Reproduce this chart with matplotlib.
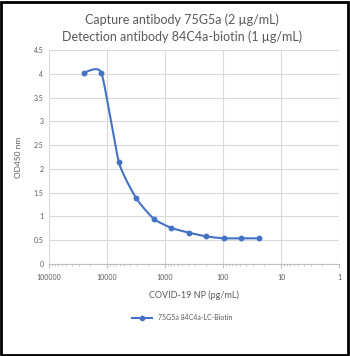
import numpy as np
import matplotlib
matplotlib.use('Agg')
import matplotlib.pyplot as plt
from matplotlib.lines import Line2D

# data
concentration = [25000, 12500, 6250, 3125, 1562.5, 781.25, 390.6, 195.3, 97.7, 48.8, 24.4]
od450 = [4.02, 4.02, 2.14, 1.38, 0.95, 0.76, 0.66, 0.58, 0.54, 0.54, 0.54]
series_name = '75G5a 84C4a-LC-Biotin'
title_lines = ['Capture antibody 75G5a (2 \u00b5g/mL)', 'Detection antibody 84C4a-biotin (1 \u00b5g/mL)']
x_ticks = [100000, 10000, 1000, 100, 10, 1]
x_ticklabels = ['100000', '10000', '1000', '100', '10', '1']
y_ticks = [0, 0.5, 1, 1.5, 2, 2.5, 3, 3.5, 4, 4.5]
y_ticklabels = ['0', '0.5', '1', '1.5', '2', '2.5', '3', '3.5', '4', '4.5']

blue = '#4472C4'
gray = '#595959'
grid = '#d9d9d9'
plt.rcParams['font.family'] = ['Lato', 'DejaVu Sans']


def smooth(xs, ys, n=30, k=0.55):
    # cardinal spline in screen-like coordinates (like Excel's smoothed line)
    u = (5 - np.log10(xs)) * 58.0
    v = np.array(ys) / 4.5 * 214.0
    pts = np.column_stack([u, v])
    ext = np.vstack([pts[0], pts, pts[-1]])
    tang = k * (ext[2:] - ext[:-2]) / 2
    out = []
    t = np.linspace(0, 1, n)[:, None]
    h00 = 2 * t ** 3 - 3 * t ** 2 + 1
    h10 = t ** 3 - 2 * t ** 2 + t
    h01 = -2 * t ** 3 + 3 * t ** 2
    h11 = t ** 3 - t ** 2
    for i in range(len(pts) - 1):
        out.append(h00 * pts[i] + h10 * tang[i] + h01 * pts[i + 1] + h11 * tang[i + 1])
    c = np.vstack(out)
    return 10 ** (5 - c[:, 0] / 58.0), c[:, 1] / 214.0 * 4.5


fig = plt.figure(figsize=(3.5, 3.56), dpi=100)
ax = fig.add_axes([0.14, 0.2584, 0.8286, 0.6012])

sx, sy = smooth(concentration, od450)
ax.plot(sx, sy, color=blue, lw=1.5, zorder=3)
ax.plot(concentration, od450, 'o', color=blue, ms=3.2, zorder=4)

ax.set_xscale('log')
ax.set_xlim(100000, 1)
ax.set_ylim(0, 4.5)
ax.set_xticks(x_ticks)
ax.set_xticklabels(x_ticklabels)
ax.set_yticks(y_ticks)
ax.set_yticklabels(y_ticklabels)
ax.tick_params(axis='both', labelsize=5, colors=gray, length=0, pad=4)
ax.tick_params(axis='x', which='minor', length=1.5, color='#bfbfbf', direction='out')
ax.tick_params(axis='x', which='major', length=3, color='#bfbfbf', direction='out')
ax.grid(True, which='major', color=grid, lw=0.8)
for s in ['top', 'right', 'left']:
    ax.spines[s].set_visible(False)
ax.spines['bottom'].set_color('#bfbfbf')
ax.spines['bottom'].set_linewidth(0.8)

ax.set_xlabel('COVID-19 NP (pg/mL)', fontsize=6.5, color=gray, labelpad=7)
ax.set_ylabel('OD450 nm', fontsize=6, color=gray, labelpad=8)
fig.text(0.52, 0.945, title_lines[0], ha='center', va='center', fontsize=9, color=gray)
fig.text(0.52, 0.898, title_lines[1], ha='center', va='center', fontsize=9, color=gray)

h = Line2D([], [], color=blue, lw=1.5, marker='o', ms=3)
fig.legend([h], [series_name], loc='center', bbox_to_anchor=(0.52, 0.108),
           frameon=False, fontsize=5, handlelength=3, labelcolor=gray)

# black frame around the whole image
fig.patches.append(plt.Rectangle((0.004, 0.004), 0.99, 0.99, transform=fig.transFigure,
                                 fill=False, ec='black', lw=2))

plt.savefig('out.png', dpi=100)
